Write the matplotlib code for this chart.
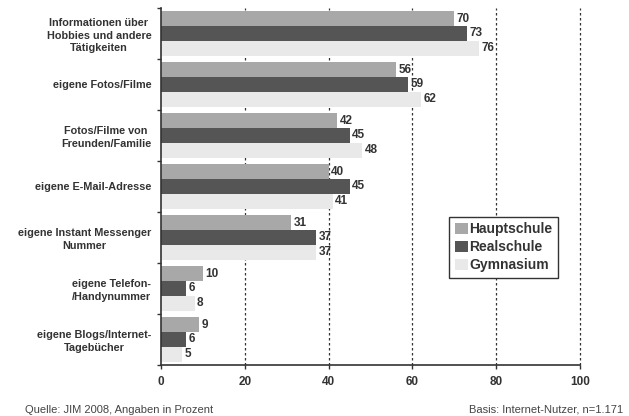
import numpy as np
import matplotlib.pyplot as plt

plt.rcParams.update({"font.family": ["Liberation Sans", "DejaVu Sans"]})

categories = [
    "Informationen über\nHobbies und andere\nTätigkeiten",
    "eigene Fotos/Filme",
    "Fotos/Filme von\nFreunden/Familie",
    "eigene E-Mail-Adresse",
    "eigene Instant Messenger\nNummer",
    "eigene Telefon-\n/Handynummer",
    "eigene Blogs/Internet-\nTagebücher",
]
hauptschule = [70, 56, 42, 40, 31, 10, 9]
realschule = [73, 59, 45, 45, 37, 6, 6]
gymnasium = [76, 62, 48, 41, 37, 8, 5]

series = [
    ("Hauptschule", hauptschule, "#a8a8a8"),
    ("Realschule", realschule, "#555555"),
    ("Gymnasium", gymnasium, "#e9e9e9"),
]

fig = plt.figure(figsize=(6.29, 4.16), dpi=100)
ax = fig.add_axes([0.256, 0.123, 0.666, 0.858])

y = np.arange(len(categories))
h = 0.29
for i, (name, vals, col) in enumerate(series):
    pos = y + (i - 1) * h
    ax.barh(pos, vals, height=h, color=col, label=name, zorder=2)
    for p, v in zip(pos, vals):
        ax.text(v + 0.6, p, str(v), va="center", ha="left",
                fontsize=8.5, fontweight="bold", color="#333333", zorder=3)

ax.set_xlim(0, 100)
ax.set_ylim(len(categories) - 0.5, -0.5)
ax.set_xticks([0, 20, 40, 60, 80, 100])
ax.tick_params(axis="x", labelsize=8.5, colors="#333333", length=3, width=1, pad=5)
for lbl in ax.get_xticklabels():
    lbl.set_fontweight("bold")

# group separators as major ticks, category names as minor ticks
ax.set_yticks(np.arange(len(categories) + 1) - 0.5)
ax.set_yticklabels([])
ax.set_yticks(y, minor=True)
ax.set_yticklabels(categories, minor=True, fontsize=7.8, fontweight="bold",
                   color="#333333", multialignment="center", linespacing=1.3)
ax.tick_params(axis="y", which="major", length=3, width=1, color="#333333")
ax.tick_params(axis="y", which="minor", length=0, pad=7)

for x in [20, 40, 60, 80, 100]:
    ax.axvline(x, color="#333333", linestyle=(0, (2, 2)), linewidth=0.9,
               zorder=1, clip_on=False)

for side in ["top", "right"]:
    ax.spines[side].set_visible(False)
for side in ["left", "bottom"]:
    ax.spines[side].set_color("#333333")
    ax.spines[side].set_linewidth(1.2)

leg = ax.legend(loc="upper left", bbox_to_anchor=(0.672, 0.435), fontsize=10,
                frameon=True, fancybox=False, framealpha=1,
                handlelength=0.9, handleheight=0.9,
                handletextpad=0.15, borderpad=0.4, labelspacing=0.3)
leg.get_frame().set_edgecolor("#333333")
leg.get_frame().set_linewidth(1.0)
for t in leg.get_texts():
    t.set_fontweight("bold")
    t.set_color("#333333")

fig.text(0.04, 0.008, "Quelle: JIM 2008, Angaben in Prozent", fontsize=8, color="#444444")
fig.text(0.99, 0.008, "Basis: Internet-Nutzer, n=1.171", fontsize=8, color="#444444", ha="right")

fig.savefig("out.png", dpi=100)
